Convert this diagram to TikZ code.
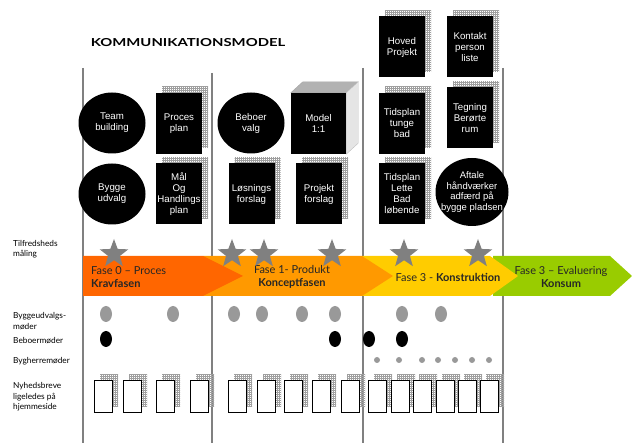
\documentclass[tikz,border=0pt]{standalone}
\usepackage{fontspec}
\setmainfont{Liberation Sans}
\newfontfamily\gillfont{Lato}
\usepackage{tikz}
\definecolor{kravred}{HTML}{FF6600}
\definecolor{konceptorange}{HTML}{FF9900}
\definecolor{konstrgul}{HTML}{FFCC00}
\definecolor{konsumgreen}{HTML}{99CC00}
\definecolor{stargray}{HTML}{808080}
\definecolor{dotgray}{HTML}{999999}
\usetikzlibrary{
  shapes.geometric,
  patterns,
  shadows
}
% fine grid for the hatched shadows
\pgfdeclarepatternformonly{finegrid}{\pgfqpoint{-0.1pt}{-0.1pt}}{\pgfqpoint{2.1pt}{2.1pt}}{\pgfqpoint{2pt}{2pt}}{
  \pgfsetlinewidth{0.45pt}
  \pgfpathmoveto{\pgfqpoint{0pt}{1pt}}\pgfpathlineto{\pgfqpoint{2pt}{1pt}}
  \pgfpathmoveto{\pgfqpoint{1pt}{0pt}}\pgfpathlineto{\pgfqpoint{1pt}{2pt}}
  \pgfusepath{stroke}}

\begin{document}
\begin{tikzpicture}[
    x=1pt, y=-1pt,
    docbox/.style={
      rectangle, fill=black, text=white,
      minimum width=46pt, minimum height=61pt, inner sep=0pt,
      align=center, font=\fontsize{9.7}{11}\selectfont,
      general shadow={shadow xshift=6pt, shadow yshift=6pt,
        pattern=finegrid, pattern color=gray!75}
    },
    blob/.style={
      ellipse, fill=black, text=white,
      minimum width=67pt, minimum height=61pt, inner sep=0pt,
      align=center, font=\fontsize{9.7}{11}\selectfont
    },
    newsbox/.style={
      rectangle, draw=black, fill=white, line width=0.8pt,
      minimum width=18pt, minimum height=32pt, inner sep=0pt,
      general shadow={shadow xshift=6pt, shadow yshift=5pt,
        pattern=finegrid, pattern color=gray!75}
    },
    meetdot/.style={
      ellipse, fill=#1, minimum width=12pt, minimum height=16pt, inner sep=0pt
    },
    meetdot/.default=dotgray,
    smalldot/.style={circle, fill=dotgray, minimum size=6pt, inner sep=0pt},
    tilfstar/.style={
      star, star points=5, star point ratio=2.4, fill=stargray,
      minimum size=30pt, inner sep=0pt
    },
    rowlabel/.style={anchor=west, align=left, inner sep=0pt,
      font=\gillfont\fontsize{8.3}{10.5}\selectfont},
    phasetext/.style={align=center, inner sep=0pt, text=black!85,
      font=\gillfont\fontsize{11}{13}\selectfont},
    divider/.style={line width=1.8pt, stargray}
  ]
  \useasboundingbox (0,0) rectangle (632,443);

  %% Column dividers
  \foreach \x/\ytop in {83/68, 212/73, 363/68, 503/68}
    \draw[divider] (\x,\ytop) -- (\x,443);

  %% Title
  \node[font=\gillfont\bfseries\fontsize{11}{13}\selectfont] (title) at (188,43) {\scalebox{1.35}[1]{KOMMUNIKATIONSMODEL}};

  %% Fase 0
  \node[blob] (team)    at (112,123) {Team\\building};
  \node[blob] (bygge)   at (112,194) {Bygge\\udvalg};
  \node[docbox] (proces) at (179,123.5) {Proces\\plan};
  \node[docbox] (maal)   at (179,194) {Mål\\Og\\Handlings\\plan};

  %% Fase 1
  \node[blob] (beboer)   at (251,123) {Beboer\\valg};
  \node[docbox] (loesning) at (251.5,194) {Løsnings\\forslag};
  \node[docbox] (projekt)  at (319,194) {Projekt\\forslag};
  \node[rectangle, fill=black, text=white, minimum width=55pt, minimum height=61pt,
        inner sep=0pt, align=center, font=\fontsize{9.7}{11}\selectfont] (model) at (318.5,123.5) {Model\\1:1};
  \filldraw[fill=gray!60, draw=gray!70] (model.north west) -- ++(12,-11)
    -- ([shift={(12,-11)}]model.north east) -- (model.north east) -- cycle;
  \filldraw[fill=gray!20, draw=gray!50] (model.north east) -- ++(12,-11)
    -- ([shift={(12,-11)}]model.south east) -- (model.south east) -- cycle;

  %% Fase 3 - Konstruktion
  \node[docbox] (hoved)   at (402,47) {Hoved\\Projekt};
  \node[docbox] (kontakt) at (470,47) {Kontakt\\person\\liste};
  \node[docbox] (tunge)   at (402,123.5) {Tidsplan\\tunge\\bad};
  \node[docbox] (tegning) at (470,118) {Tegning\\Berørte\\rum};
  \node[docbox] (lette)   at (402,194) {Tidsplan\\Lette\\Bad\\løbende};
  \node[blob, minimum width=73pt, minimum height=68pt, inner xsep=-6pt,
        font=\fontsize{9.5}{10.7}\selectfont] (aftale) at (472,192) {Aftale\\håndværker\\adfærd på\\bygge pladsen};

  %% Phase arrows
  \fill[konsumgreen]   (493,256) -- (610,256) -- (632,276) -- (610,296) -- (493,296) -- cycle;
  \fill[konstrgul]     (362,256) -- (490,256) -- (518,276) -- (490,296) -- (362,296) -- cycle;
  \fill[konceptorange] (203,256) -- (362,256) -- (393,276) -- (362,296) -- (203,296) -- cycle;
  \fill[kravred]       (83,256) -- (203,256) -- (243,276) -- (203,296) -- (83,296) -- cycle;

  \node[phasetext, align=left, anchor=west] (fase0) at (91,277) {Fase 0 – Proces\\\textbf{Kravfasen}};
  \node[phasetext] (fase1) at (292,277) {Fase 1- Produkt\\\textbf{Konceptfasen}};
  \node[phasetext] (fase3) at (448,277) {Fase 3 - \textbf{Konstruktion}};
  \node[phasetext] (fase4) at (561,277) {Fase 3 – Evaluering\\\textbf{Konsum}};

  %% Tilfredshedsmaaling
  \foreach \x [count=\i] in {114,232,264,332,404,478}
    \node[tilfstar] (star\i) at (\x,254) {};

  %% Row labels
  \node[rowlabel] (lbltilf)   at (13,249) {Tilfredsheds\\måling};
  \node[rowlabel] (lblbygge)  at (13,321) {Byggeudvalgs-\\møder};
  \node[rowlabel] (lblbeboer) at (13,341) {Beboermøder};
  \node[rowlabel] (lblherre)  at (13,361) {Bygherremøder};
  \node[rowlabel] (lblnyhed)  at (13,397) {Nyhedsbreve\\ligeledes på\\hjemmeside};

  %% Meetings
  \foreach \x [count=\i] in {106,173,234,262,302,335,402,441}
    \node[meetdot] (udv\i) at (\x,314) {};
  \foreach \x [count=\i] in {106,335,369,402}
    \node[meetdot=black] (beb\i) at (\x,339) {};
  \foreach \x [count=\i] in {377,399,422,438,455,472,489}
    \node[smalldot] (herre\i) at (\x,360) {};

  %% Newsletters
  \foreach \x [count=\i] in {94,123,156,190,228,257,284,312,341,368,391,413,436,458,480}
    \node[newsbox] (news\i) at (\x+9,396) {};

\end{tikzpicture}
\end{document}
